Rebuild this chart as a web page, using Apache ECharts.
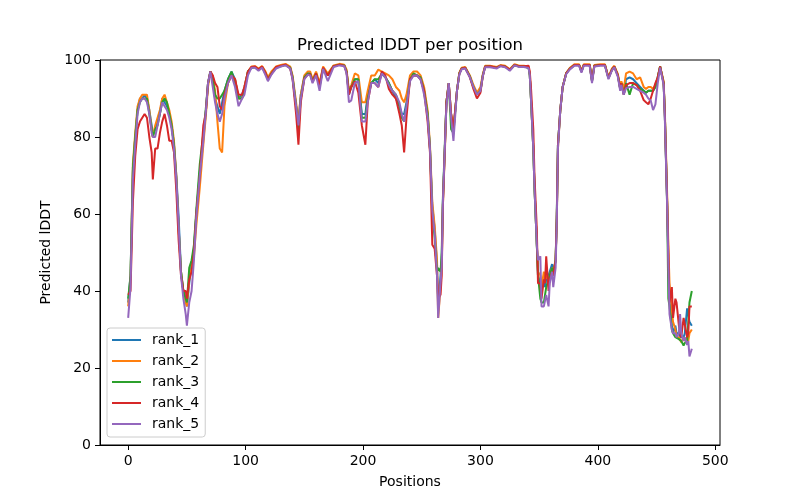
<!DOCTYPE html>
<html>
<head>
<meta charset="utf-8">
<script src="https://cdn.jsdelivr.net/npm/echarts@6.0.0/dist/echarts.min.js"></script>
<style>
  html, body { margin: 0; padding: 0; background: #fff; }
  #chart { width: 800px; height: 500px; }
</style>
</head>
<body>
<div id="chart"></div>
<script>
// residue positions sampled along the curves
const positions = [
    0, 2, 4, 6, 8, 10, 12, 14, 16, 18,
    20, 21, 23, 25, 27, 29, 31, 33, 35, 37,
    39, 41, 43, 45, 47, 49, 50, 52, 54, 56,
    58, 61, 64, 66, 68, 70, 72, 74, 76, 78,
    80, 82, 85, 88, 91, 94, 97, 99, 102, 105,
    108, 111, 114, 117, 119, 122, 126, 130, 134, 138,
    140, 143, 145, 147, 150, 153, 155, 157, 160, 163,
    166, 170, 175, 180, 184, 186, 188, 190, 193, 196,
    199, 202, 204, 207, 210, 213, 216, 219, 222, 225,
    228, 231, 233, 235, 237, 240, 243, 246, 249, 252,
    255, 257, 259, 261, 263, 264, 266, 267, 268, 270,
    271, 273, 275, 277, 280, 282, 284, 287, 291, 294,
    297, 300, 302, 304, 308, 314, 317, 321, 325, 329,
    333, 337, 341, 342, 343, 345, 346, 348, 349, 351,
    352, 354, 355, 356, 358, 359, 361, 362, 364, 365,
    366, 368, 370, 373, 376, 380, 384, 386, 388, 393,
    395, 397, 402, 406, 409, 412, 414, 417, 419, 420,
    422, 424, 427, 430, 433, 436, 439, 441, 443, 445,
    447, 449, 451, 453, 454, 456, 457, 459, 460, 461,
    463, 464, 466, 467, 469, 470, 471, 473, 474, 476,
    477, 478, 480
];

const rank1 = [
    37, 44, 71, 80, 87, 90, 90, 91, 90, 87,
    83, 81, 82, 84, 86, 90, 89, 88, 86, 83,
    78, 70, 59, 45, 40, 38, 36, 42, 47, 51,
    60, 71, 80, 86, 94, 97, 95, 90, 88, 86,
    89, 92, 95, 97, 95, 90, 91, 93, 97, 98,
    98.2, 97.5, 98.2, 96.5, 95, 96.5, 98, 98.5, 98.8, 98,
    95.5, 88, 84, 91, 95.5, 96.5, 96.5, 94.5, 96.5, 93.5,
    98, 96, 98.4, 98.8, 98.6, 97, 91, 93, 95, 95,
    86, 86, 91, 94, 95, 94, 96.5, 95.5, 94, 92,
    90, 88, 86, 86, 89, 95, 96, 96, 95, 92,
    86, 77, 62, 56, 47, 36, 44, 48, 63, 80,
    89, 94, 86, 82, 92, 96.5, 97.8, 98, 95.7, 93,
    91.5, 92, 96, 98.3, 98.3, 98, 98.5, 98.3, 97.4, 98.7,
    98.3, 98.3, 98, 96, 90, 77, 67, 52, 44, 42,
    40, 43, 41, 43, 44, 45, 47, 45, 48, 59,
    78, 87, 93, 96.5, 97.7, 98.7, 98.7, 97, 98.7, 98.7,
    94.5, 98.5, 98.7, 98.7, 95.3, 97.5, 98.3, 96, 92.5, 94,
    91.5, 95, 95.5, 95, 94, 93, 92, 91.5, 92, 92,
    92, 93, 95.5, 98.3, 98.3, 94, 86, 63, 48, 38,
    31, 29, 31, 29, 29, 28, 28, 28, 29, 35.5,
    36, 32, 31
];

const rank2 = [
    36, 43, 73, 81, 88, 90, 91, 91, 91, 87,
    82, 80, 83, 85, 87, 90, 91, 89, 87, 84,
    79, 70, 56, 45, 40, 37, 36, 43, 46, 49,
    57, 67, 78, 85, 93, 97, 96, 92, 84, 77,
    76, 88, 94, 96, 95, 90, 90, 93, 97, 98.3,
    98.4, 97.8, 98.4, 97, 95.5, 97, 98.3, 98.7, 99, 98.3,
    96, 89, 84, 91, 96, 97, 97, 95, 97, 94,
    98.3, 96.5, 98.6, 99, 98.8, 97.5, 92, 93.5, 96.5, 96,
    89, 89, 92, 96, 96, 97.5, 97, 96.5, 96, 95,
    93, 92, 90, 89, 91, 96, 97, 97, 96, 93,
    87, 78, 63, 57, 48, 33, 41, 46, 62, 79,
    89, 94, 86, 82, 92, 96.7, 98, 98.2, 96, 93.5,
    91.5, 93, 96.3, 98.5, 98.5, 98.2, 98.7, 98.5, 97.6, 98.9,
    98.5, 98.5, 98.2, 96.2, 90, 77, 67, 52, 45, 44,
    41, 45, 43, 44, 43, 44, 46, 45, 48, 58,
    77, 87, 93, 96.6, 97.9, 98.9, 98.9, 97.3, 98.9, 98.9,
    95, 98.7, 98.9, 98.9, 95.6, 97.8, 98.5, 96.4, 93, 94.5,
    92.5, 96.5, 97, 96.5, 95, 95.5, 93, 92.5, 93, 93,
    92.5, 93.5, 95.5, 98.3, 98.4, 94.5, 87, 65, 52, 42,
    35, 32, 30, 28, 28, 28, 26.7, 28, 27, 28,
    27, 29, 30
];

const rank3 = [
    38, 44, 72, 80, 87, 89, 90, 90, 90, 86,
    82, 80, 82, 83, 86, 89, 90, 89, 86, 83,
    78, 69, 56, 45, 40, 38, 37, 46, 48, 52,
    61, 73, 81, 87, 94, 97, 95, 91, 90, 90,
    91, 92, 95, 97, 94, 90, 90, 92, 97, 98,
    98.2, 97.5, 98.2, 96.5, 95, 96.5, 98, 98.4, 98.7, 98,
    95.5, 88, 82, 90, 95.5, 96.5, 96.4, 94.5, 96.5, 93,
    97.8, 96, 98.4, 98.8, 98.6, 97, 91.5, 93, 95, 95,
    85, 85, 90, 94, 95, 95, 96.5, 95.5, 94, 92,
    91, 88, 85, 84, 88, 95, 96.5, 96, 95.5, 92,
    86, 77, 60, 54, 45, 46, 45, 50, 64, 81,
    89, 94, 82, 81, 92, 96.5, 97.8, 98, 95.7, 93,
    91, 92, 96, 98.3, 98.3, 98, 98.5, 98.3, 97.4, 98.7,
    98.3, 98.3, 98, 96, 90, 77, 67, 52, 44, 38,
    37, 37, 39, 41, 43, 44, 46, 44, 48, 60,
    78, 87, 93, 96.5, 97.7, 98.7, 98.7, 97, 98.7, 98.7,
    94.5, 98.5, 98.7, 98.7, 95.3, 97.5, 98.3, 96, 92.5, 94,
    91, 94, 91, 94, 93.5, 92.5, 92, 91.5, 92, 92,
    92, 93, 95.5, 98.3, 98.3, 94, 86, 62, 38, 36,
    30, 29, 28, 28, 27.5, 27, 27, 25.8, 26.5, 27,
    27, 37, 40
];

const rank4 = [
    39, 40, 63, 75, 82, 84, 85, 86, 85, 80,
    76, 69, 77, 77, 81, 84, 86, 83, 79, 79,
    76, 66, 53, 44, 40, 40, 38, 43, 45, 50,
    60, 70, 83, 86, 94, 97, 96, 94, 93, 88,
    87, 91, 94, 96, 95, 91, 91, 93, 97, 98.2,
    98.3, 97.6, 98.3, 96.6, 95, 96.4, 98.2, 98.5, 98.8, 97.8,
    95, 86, 78, 89, 95.2, 96.2, 96.3, 94.3, 96.5, 93.5,
    98, 96, 98.4, 98.8, 98.5, 96.8, 91, 93, 94.5, 91.5,
    83, 78, 89, 94, 94, 93, 97, 96, 92.5, 91,
    90, 86, 83, 76, 85, 95, 96, 96, 95, 92,
    84, 76, 52, 51, 44, 38, 39, 44, 62, 80,
    89, 94, 86, 82, 92, 96.4, 97.8, 98, 95.5, 92.5,
    90, 91.5, 95.8, 98.3, 98.4, 98, 98.5, 98.3, 97.5, 98.7,
    98.4, 98.4, 98.5, 97, 93, 82, 70, 56, 42, 42,
    38, 43, 42, 49, 40, 43, 45, 44, 48, 59,
    78, 87, 93, 96.5, 97.7, 98.7, 98.7, 97, 98.7, 98.7,
    94.5, 98.5, 98.7, 98.7, 95.3, 97.5, 98.3, 96, 92.5, 94,
    91, 93.5, 94, 94, 93.5, 92, 89.6, 89, 88.5, 90,
    92, 94, 95.5, 98.3, 98.3, 94, 86, 63, 50, 37,
    41, 33, 38, 37, 31, 29, 28, 33, 33, 28,
    29, 36, 36
];

const rank5 = [
    33, 41, 69, 78, 86, 89, 90, 90, 89, 86,
    81, 80, 80, 83, 86, 89, 88, 87, 85, 82,
    77, 69, 57, 44, 38, 34, 31, 37, 40, 48,
    59, 70, 79, 86, 94, 97, 93, 89, 86, 84,
    86, 90, 94, 96, 93, 88, 90, 91, 96, 98,
    98, 97.2, 98, 96, 94.5, 96.2, 97.8, 98.3, 98.6, 97.8,
    95, 88, 83, 90, 95, 96.2, 96, 94, 96, 92,
    97.7, 94.5, 98.2, 98.6, 98.4, 96.5, 89, 89.5, 94, 94.5,
    84, 84, 89, 94, 94, 93, 96.5, 95.5, 93.5, 92,
    91, 89, 86, 84, 88, 94.5, 96, 96, 95, 91,
    85, 77, 61, 55, 44, 33, 42, 46, 63, 80,
    88, 94, 85, 79, 92, 96.2, 97.6, 97.8, 95.5, 93,
    91, 92, 95.8, 98.1, 98.1, 97.8, 98.4, 98.1, 97.2, 98.6,
    98.2, 98.2, 97.9, 96, 90, 77, 67, 52, 48, 49,
    36, 36, 36, 39, 36, 42, 45, 41, 46, 58,
    77, 87, 93, 96.3, 97.5, 98.5, 98.5, 96.7, 98.5, 98.5,
    94, 98.3, 98.5, 98.5, 95, 97.3, 98.1, 95.6, 92, 93.5,
    91, 92.7, 93, 93, 92.5, 92, 91.5, 91, 90, 89.5,
    87, 88.5, 94, 98, 98.1, 93.5, 85, 62, 47, 34,
    30, 29, 29, 28, 29, 34, 29, 27, 28, 26,
    27, 23, 25
];

const seriesNames = ['rank_1', 'rank_2', 'rank_3', 'rank_4', 'rank_5'];
const seriesValues = [rank1, rank2, rank3, rank4, rank5];
const colors = ['#1f77b4', '#ff7f0e', '#2ca02c', '#d62728', '#9467bd'];
const xTicks = [0, 100, 200, 300, 400, 500];

const FONT = 'DejaVu Sans';

const chart = echarts.init(document.getElementById('chart'));

const series = seriesNames.map((name, i) => ({
    name: name,
    type: 'line',
    data: positions.map((p, j) => [p, seriesValues[i][j]]),
    symbol: 'none',
    lineStyle: { color: colors[i], width: 2 },
    itemStyle: { color: colors[i] },
    animation: false
}));

const option = {
    animation: false,
    textStyle: { fontFamily: FONT },
    grid: {
        left: 100, right: 80, top: 60, bottom: 55,
        show: true, borderColor: '#000', borderWidth: 1, backgroundColor: 'transparent'
    },
    xAxis: {
        type: 'value',
        min: -24, max: 504,
        name: 'Positions',
        nameLocation: 'middle',
        nameGap: 30,
        nameTextStyle: { fontFamily: FONT, fontSize: 14, color: '#000' },
        axisLine: { show: true, onZero: false, lineStyle: { color: '#000', width: 1 } },
        axisTick: { show: true, length: 5, customValues: xTicks, lineStyle: { color: '#000' } },
        axisLabel: { customValues: xTicks, margin: 9, fontFamily: FONT, fontSize: 14, color: '#000' },
        splitLine: { show: false }
    },
    yAxis: {
        type: 'value',
        min: 0, max: 100, interval: 20,
        name: 'Predicted lDDT',
        nameLocation: 'middle',
        nameGap: 44,
        nameTextStyle: { fontFamily: FONT, fontSize: 14, color: '#000' },
        axisLine: { show: true, onZero: false, lineStyle: { color: '#000', width: 1 } },
        axisTick: { show: true, length: 5, lineStyle: { color: '#000' } },
        axisLabel: { margin: 9, fontFamily: FONT, fontSize: 14, color: '#000' },
        splitLine: { show: false }
    },
    legend: {
        data: seriesNames,
        orient: 'vertical',
        left: 107, top: 328,
        padding: [5, 6, 6, 5],
        icon: 'path://M0,0 L29,0 L29,2 L0,2 Z',
        itemWidth: 29, itemHeight: 14, itemGap: 7,
        backgroundColor: 'rgba(255,255,255,0.8)',
        borderColor: '#cccccc', borderWidth: 1, borderRadius: 3,
        textStyle: { fontFamily: FONT, fontSize: 14, color: '#000', padding: [0, 0, 0, 6] }
    },
    graphic: [{
        type: 'text',
        x: 410, y: 46,
        style: {
            text: 'Predicted lDDT per position',
            fontFamily: FONT, fontSize: 16.5, fill: '#000',
            align: 'center', verticalAlign: 'middle'
        }
    }],
    series: series
};

chart.setOption(option);
</script>
</body>
</html>
